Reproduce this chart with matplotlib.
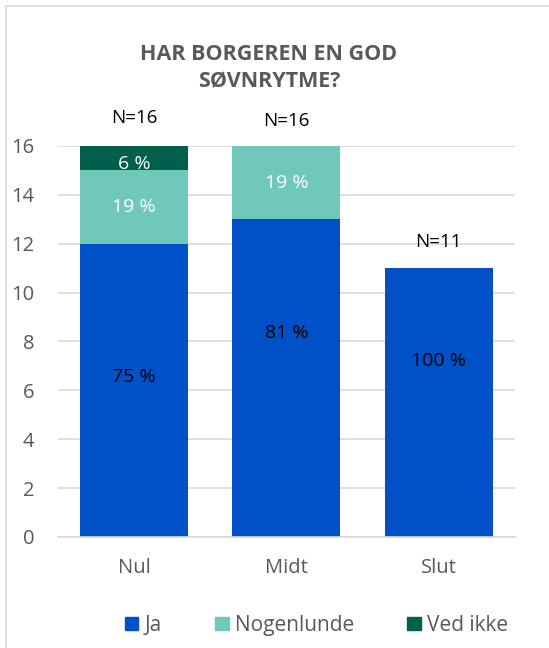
import matplotlib
matplotlib.use('Agg')
import matplotlib.pyplot as plt
import matplotlib.patches as mpatches
import numpy as np

plt.rcParams['font.family'] = ['Open Sans', 'DejaVu Sans']

categories = ['Nul', 'Midt', 'Slut']
series_names = ['Ja', 'Nogenlunde', 'Ved ikke']
ja = [12, 13, 11]
nogenlunde = [3, 3, 0]
ved_ikke = [1, 0, 0]
n_labels = ['N=16', 'N=16', 'N=11']
pct_ja = ['75 %', '81 %', '100 %']
pct_nogenlunde = ['19 %', '19 %', '']
pct_ved_ikke = ['6 %', '', '']

colors = ['#0050c8', '#6fc8ba', '#00604a']
label_colors = ['black', 'white', 'white']
# manual shift of the Ja labels, as in the original
ja_label_shift = [0.55, 1.85, 1.7]
n_offset = [20, 18, 18.5]

fig = plt.figure(figsize=(5.49, 6.48), dpi=100)
ax = fig.add_axes([0.1056, 0.1713, 0.832, 0.6034])

x = np.arange(len(categories))
width = 0.71
bottom = np.zeros(len(categories))
stacks = [ja, nogenlunde, ved_ikke]
pcts = [pct_ja, pct_nogenlunde, pct_ved_ikke]
for i, vals in enumerate(stacks):
    vals = np.array(vals, dtype=float)
    ax.bar(x, vals, width, bottom=bottom, color=colors[i], zorder=2)
    for j in range(len(x)):
        if vals[j] > 0 and pcts[i][j]:
            y = bottom[j] + vals[j] / 2
            if i == 0:
                y += ja_label_shift[j]
            if i == 2:
                y -= 0.25
            ax.text(x[j], y, pcts[i][j], ha='center', va='center',
                    color=label_colors[i], fontsize=14)
    bottom += vals

for j in range(len(x)):
    ax.annotate(n_labels[j], (x[j], bottom[j]), xytext=(0, n_offset[j]),
                textcoords='offset points', ha='center', va='center',
                fontsize=13.5, color='black')

ax.set_xlim(-0.5, 2.5)
ax.set_ylim(0, 16)
ax.set_yticks(range(0, 17, 2))
ax.set_xticks(x)
ax.set_xticklabels(categories)
ax.tick_params(length=0, labelsize=14.5, colors='#595959')
ax.tick_params(axis='y', pad=17)
ax.tick_params(axis='x', pad=15)
ax.grid(axis='y', color='#d9d9d9', linewidth=1.2, zorder=0)
for s in ['top', 'right', 'left']:
    ax.spines[s].set_visible(False)
ax.spines['bottom'].set_color('#d9d9d9')
ax.spines['bottom'].set_linewidth(1.2)

fig.text(0.49, 0.895, 'HAR BORGEREN EN GOD\nSØVNRYTME?', ha='center', va='center',
         fontsize=15.5, fontweight='bold', color='#595959', linespacing=1.35)

patches = [mpatches.Patch(color=colors[i], label=series_names[i]) for i in range(3)]
fig.legend(handles=patches, loc='center', bbox_to_anchor=(0.5765, 0.035), ncol=3,
           frameon=False, fontsize=15, labelcolor='#595959', handlelength=0.65,
           handleheight=0.65, handletextpad=0.3, columnspacing=2.55)

fig.add_artist(mpatches.Rectangle((6 / 549, -0.01), 1.0, 1 - 6 / 648 + 0.01,
                                  transform=fig.transFigure, fill=False,
                                  edgecolor='#d9d9d9', linewidth=1.2))

fig.savefig('out.png', dpi=100)
